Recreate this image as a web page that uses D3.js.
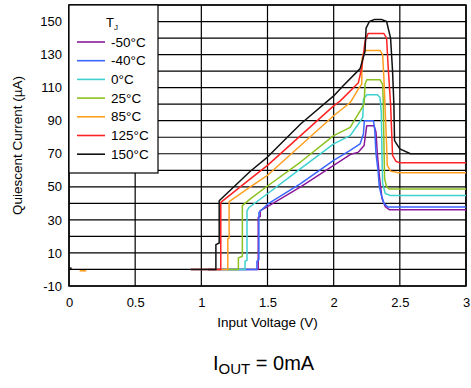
<!DOCTYPE html>
<html><head><meta charset="utf-8">
<script src="https://cdn.jsdelivr.net/npm/d3@7"></script>
<style>
html,body{margin:0;padding:0;background:#fff;}
svg{display:block;font-family:"Liberation Sans",Arial,sans-serif;}
</style></head>
<body><svg id="c" width="471" height="388"></svg>
<script>
// ---- data ----
const temps = ["-50°C","-40°C","0°C","25°C","85°C","125°C","150°C"];
const colors = ["#8a1a9b","#3a66ff","#3fd0d0","#8cc21f","#ffa020","#ff2222","#111111"];
const xTicks = [0,0.5,1,1.5,2,2.5,3];
const yTicks = [-10,10,30,50,70,90,110,130,150];

const vM50 = [1.05,1.43,1.43,1.445,1.445,1.5,1.75,2.0,2.125,2.187,2.23,2.25,2.305,2.32,2.33,2.345,2.355,2.365,2.39,2.42,3.0];
const iM50 = [0,0,31.5,32,35.6,38,50,63,69.5,71,75,87,87,83,70,57,50,43,38,36.2,36.2];
const vM40 = [1.05,1.42,1.42,1.435,1.435,1.5,1.75,2.0,2.125,2.2,2.225,2.232,2.30,2.31,2.32,2.335,2.345,2.36,2.38,2.41,3.0];
const iM40 = [0,0,5,6,34.5,39.5,52,66,72,76,82,90,90,85,70,60,50,45,40,37.8,37.8];
const v0 = [1.1,1.33,1.33,1.345,1.345,1.36,1.5,1.75,2.0,2.125,2.187,2.22,2.225,2.25,2.33,2.35,2.36,2.365,2.37,2.39,2.43,3.0];
const i0 = [0,0,5,5.5,35.5,37.5,45.8,61,76,81,88,92,103,105.7,105.7,104,95,70,52,46,44.7,44.7];
const v25 = [1.18,1.28,1.28,1.31,1.31,1.37,1.5,1.75,2.0,2.125,2.2,2.23,2.237,2.25,2.35,2.37,2.375,2.38,2.385,2.40,2.42,3.0];
const i25 = [0,0,7,8,38.6,42.7,50.5,65,81,86,96,100,112,114.8,114.8,112,100,75,55,50,48.7,48.7];
const v85 = [1.05,1.20,1.20,1.21,1.21,1.37,1.5,1.75,2.0,2.125,2.187,2.212,2.215,2.235,2.35,2.37,2.38,2.39,2.40,2.405,2.43,2.49,3.0];
const i85 = [0,0,18.6,19,41,50,57,75,93,101,109.3,112,128,132.5,132.5,130,115,95,75,63,59.5,58.5,58.5];
const v125 = [0.92,1.147,1.147,1.37,1.5,1.75,2.0,2.05,2.187,2.212,2.237,2.26,2.38,2.40,2.41,2.43,2.44,2.445,2.47,2.5,3.0];
const i125 = [0,0,40.6,54.8,63,81,99,102,113,122,138,142.7,142.7,140,125,100,80,69,65.5,64.5,64.5];
const v150 = [0.92,1.11,1.11,1.135,1.135,1.37,1.5,1.75,2.0,2.07,2.2,2.237,2.245,2.27,2.31,2.36,2.40,2.43,2.445,2.455,2.46,2.50,2.58,3.0];
const i150 = [0,0,15,16,41.6,59.4,68,88,105,111,121.5,132,146,150,151.3,151.3,150,140,120,100,78,73,70,70];
// small stray marks near 0 V
const vStray85 = [0.08,0.13];
const iStray85 = [-0.8,-0.8];
const vStray150 = [0.0,0.02];
const iStray150 = [0.8,0.8];

const seriesV = [vM50,vM40,v0,v25,v85,v125,v150];
const seriesI = [iM50,iM40,i0,i25,i85,i125,i150];

// ---- layout ----
const L=69, R=466, T=5, B=286;
const svg = d3.select("#c");
const x = d3.scaleLinear().domain([0,3]).range([L,R]);
const y = d3.scaleLinear().domain([-10,160]).range([B,T]);

// grid
const grid = svg.append("g").attr("stroke","#000").attr("stroke-width",1.2);
grid.selectAll("line.h").data(d3.range(-10,161,10)).join("line")
  .attr("x1",L).attr("x2",R).attr("y1",d=>y(d)).attr("y2",d=>y(d));
grid.selectAll("line.v").data(xTicks).join("line")
  .attr("y1",T).attr("y2",B).attr("x1",d=>x(d)).attr("x2",d=>x(d));
svg.append("rect").attr("x",L).attr("y",T).attr("width",R-L).attr("height",B-T)
  .attr("fill","none").attr("stroke","#000").attr("stroke-width",1.5);

// axes
const ax = svg.append("g").attr("transform",`translate(0,${B})`)
  .call(d3.axisBottom(x).tickValues(xTicks).tickSize(0).tickPadding(12).tickFormat(d=>String(d)));
const ay = svg.append("g").attr("transform",`translate(${L},0)`)
  .call(d3.axisLeft(y).tickValues(yTicks).tickSize(0).tickPadding(7).tickFormat(d=>String(d)));
[ax,ay].forEach(a=>{a.select(".domain").remove();
  a.selectAll("text").attr("font-size",13).attr("font-family","Liberation Sans, Arial, sans-serif").attr("fill","#000");});

svg.append("text").attr("x",(L+R)/2).attr("y",327).attr("text-anchor","middle")
  .attr("font-size",13.5).attr("fill","#000").text("Input Voltage (V)");
svg.append("text").attr("transform",`translate(22,${(T+B)/2}) rotate(-90)`).attr("text-anchor","middle")
  .attr("font-size",13.5).attr("fill","#000").text("Quiescent  Current (µA)");

// curves
const line = d3.line().x(d=>x(d[0])).y(d=>y(d[1]));
const curves = svg.append("g").attr("fill","none").attr("stroke-width",1.5).attr("stroke-linejoin","round");
seriesV.forEach((vs,k)=>{
  const pts = vs.map((v,j)=>[v,seriesI[k][j]]);
  curves.append("path").attr("d",line(pts)).attr("stroke",colors[k]);
});
curves.append("path").attr("d",line(vStray85.map((v,j)=>[v,iStray85[j]]))).attr("stroke",colors[4]).attr("stroke-width",1.6);
curves.append("path").attr("d",line(vStray150.map((v,j)=>[v,iStray150[j]]))).attr("stroke",colors[6]).attr("stroke-width",1.6);

// legend
const lg = svg.append("g");
lg.append("rect").attr("x",L).attr("y",T).attr("width",158-L).attr("height",173-T)
  .attr("fill","#fff").attr("stroke","#000").attr("stroke-width",1.2);
const tt = lg.append("text").attr("x",106).attr("y",27).attr("font-size",13).attr("fill","#000");
tt.append("tspan").text("T");
tt.append("tspan").attr("font-size",8).attr("dy",3).text("J");
temps.forEach((t,k)=>{
  const yy = 42 + k*18.7;
  lg.append("line").attr("x1",77).attr("x2",105).attr("y1",yy).attr("y2",yy)
    .attr("stroke",colors[k]).attr("stroke-width",1.6);
  lg.append("text").attr("x",111).attr("y",yy+4.5).attr("font-size",13.5).attr("fill","#000").text(t);
});

// footer
const ft = svg.append("text").attr("x",213).attr("y",370).attr("font-size",20).attr("fill","#000");
ft.append("tspan").text("I");
ft.append("tspan").attr("font-size",15).attr("dy",4).text("OUT");
ft.append("tspan").attr("dy",-4).text(" = 0mA");
</script></body></html>
